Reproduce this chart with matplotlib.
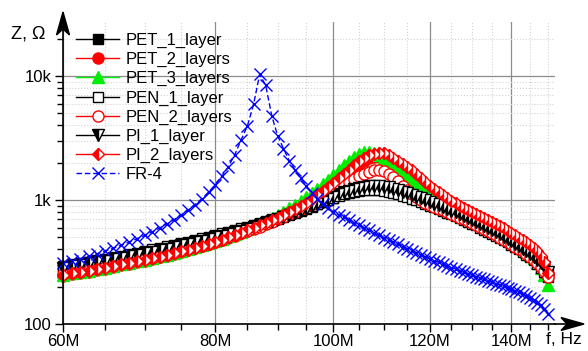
import numpy as np
import matplotlib
matplotlib.use('Agg')
import matplotlib.pyplot as plt
from matplotlib.patches import Polygon
from matplotlib.lines import Line2D
from matplotlib.ticker import FixedLocator, LogLocator, NullFormatter

plt.rcParams['font.family'] = ['Liberation Sans', 'DejaVu Sans']

# frequency sweep, MHz
f_mhz = [60, 61, 62, 63, 64, 65, 66, 67, 68, 69,
         70, 71, 72, 73, 74, 75, 76, 77, 78, 79,
         80, 81, 82, 83, 84, 85, 86, 87, 88, 89,
         90, 91, 92, 93, 94, 95, 96, 97, 98, 99,
         100, 101, 102, 103, 104, 105, 106, 107, 108, 109,
         110, 111, 112, 113, 114, 115, 116, 117, 118, 119,
         120, 121, 122, 123, 124, 125, 126, 127, 128, 129,
         130, 131, 132, 133, 134, 135, 136, 137, 138, 139,
         140, 141, 142, 143, 144, 145, 146, 147, 148, 149,
         150]

# impedance, Ohm
pet_1 = [290, 297, 305, 313, 321, 330, 339, 348, 358, 368,
         378, 389, 400, 411, 423, 435, 448, 461, 475, 490,
         505, 521, 537, 554, 572, 590, 610, 630, 652, 675,
         700, 727, 755, 785, 817, 850, 886, 923, 962, 1003,
         1045, 1088, 1128, 1163, 1195, 1222, 1245, 1262, 1268, 1262,
         1245, 1222, 1196, 1168, 1138, 1106, 1073, 1040, 1010, 980,
         950, 921, 893, 866, 840, 815, 790, 765, 740, 715,
         690, 665, 641, 617, 594, 571, 549, 527, 506, 485,
         463, 443, 423, 404, 385, 366, 346, 326, 305, 283,
         258]
pet_2 = [245, 251, 258, 265, 272, 280, 288, 297, 306, 315,
         325, 335, 345, 356, 368, 380, 393, 407, 422, 438,
         455, 474, 494, 516, 539, 564, 591, 620, 650, 682,
         716, 753, 793, 836, 884, 937, 1000, 1075, 1160, 1250,
         1345, 1455, 1570, 1690, 1820, 1950, 2070, 2170, 2230, 2240,
         2200, 2120, 2020, 1910, 1800, 1700, 1600, 1500, 1410, 1320,
         1240, 1170, 1110, 1055, 1005, 958, 915, 875, 838, 804,
         772, 742, 714, 688, 663, 639, 616, 592, 568, 544,
         520, 498, 477, 456, 435, 413, 390, 365, 337, 302,
         255]
pet_3 = [250, 256, 263, 270, 277, 285, 293, 302, 311, 320,
         330, 340, 351, 362, 374, 387, 401, 416, 432, 449,
         467, 487, 508, 531, 556, 583, 612, 643, 677, 715,
         757, 803, 854, 912, 977, 1050, 1135, 1230, 1340, 1460,
         1590, 1740, 1900, 2060, 2210, 2330, 2420, 2440, 2400, 2310,
         2190, 2060, 1920, 1790, 1660, 1550, 1450, 1360, 1280, 1210,
         1145, 1085, 1030, 980, 935, 893, 855, 818, 783, 750,
         718, 688, 659, 632, 606, 581, 557, 534, 511, 489,
         467, 446, 425, 404, 383, 361, 338, 313, 285, 250,
         205]
pen_1 = [295, 303, 311, 319, 328, 337, 346, 356, 366, 377,
         388, 399, 411, 423, 436, 449, 462, 476, 491, 507,
         523, 539, 556, 574, 592, 611, 631, 652, 674, 697,
         721, 746, 772, 800, 830, 862, 895, 930, 966, 1003,
         1040, 1076, 1108, 1136, 1160, 1180, 1194, 1202, 1204, 1198,
         1184, 1164, 1140, 1113, 1085, 1055, 1024, 993, 962, 931,
         900, 872, 845, 818, 792, 767, 742, 718, 694, 670,
         646, 623, 600, 578, 556, 535, 514, 494, 474, 455,
         436, 417, 399, 381, 363, 345, 326, 306, 285, 263,
         238]
pen_2 = [252, 258, 265, 272, 279, 287, 295, 304, 313, 322,
         332, 342, 352, 363, 375, 387, 400, 414, 429, 445,
         462, 480, 499, 519, 540, 562, 586, 611, 638, 667,
         698, 731, 766, 804, 845, 889, 937, 990, 1048, 1110,
         1175, 1245, 1320, 1400, 1480, 1560, 1630, 1690, 1730, 1745,
         1700, 1620, 1520, 1410, 1300, 1200, 1120, 1050, 995, 950,
         910, 880, 852, 825, 798, 772, 747, 722, 698, 674,
         650, 627, 604, 582, 560, 539, 518, 498, 478, 459,
         440, 421, 403, 385, 367, 349, 330, 310, 289, 266,
         240]
pi_1 = [285, 292, 300, 308, 316, 325, 334, 343, 353, 363,
        373, 384, 395, 406, 418, 430, 443, 456, 470, 485,
        500, 516, 532, 549, 567, 586, 606, 627, 649, 673,
        698, 725, 754, 785, 818, 853, 890, 930, 972, 1016,
        1062, 1108, 1152, 1192, 1228, 1258, 1281, 1296, 1302, 1298,
        1284, 1262, 1234, 1203, 1170, 1136, 1101, 1066, 1032, 998,
        965, 934, 904, 875, 847, 820, 794, 768, 742, 716,
        691, 666, 642, 618, 595, 572, 550, 528, 507, 486,
        465, 445, 425, 406, 387, 368, 349, 329, 308, 286,
        262]
pi_2 = [250, 256, 263, 270, 277, 285, 293, 302, 311, 320,
        330, 340, 350, 361, 373, 385, 398, 412, 427, 443,
        460, 480, 500, 522, 545, 570, 597, 626, 656, 688,
        722, 760, 800, 845, 895, 950, 1020, 1100, 1190, 1280,
        1380, 1500, 1620, 1750, 1900, 2050, 2180, 2290, 2370, 2400,
        2380, 2310, 2200, 2080, 1960, 1850, 1740, 1610, 1500, 1400,
        1300, 1220, 1160, 1100, 1040, 990, 940, 900, 860, 825,
        795, 765, 738, 712, 687, 663, 640, 615, 590, 565,
        540, 518, 497, 476, 455, 433, 410, 385, 355, 315,
        260]
fr_4 = [310, 322, 336, 352, 369, 388, 409, 432, 458, 487,
        518, 554, 594, 640, 694, 757, 830, 918, 1025, 1160,
        1330, 1550, 1860, 2320, 3050, 3950, 5900, 10300, 8400, 4800,
        3300, 2600, 2080, 1740, 1500, 1300, 1130, 1010, 920, 855,
        800, 760, 724, 690, 657, 627, 598, 570, 543, 518,
        494, 475, 457, 438, 421, 405, 390, 375, 361, 348,
        335, 324, 314, 303, 294, 285, 277, 269, 261, 254,
        247, 240, 235, 229, 223, 218, 212, 207, 201, 196,
        190, 185, 180, 174, 168, 163, 156, 149, 142, 131,
        120]

x_ticks = [60e6, 80e6, 100e6, 120e6, 140e6]
x_labels = ['60M', '80M', '100M', '120M', '140M']
y_ticks = [100, 1000, 10000]
y_labels = ['100', '1k', '10k']

W, H = 588, 351
fig = plt.figure(figsize=(W / 100, H / 100), dpi=100)
ax = fig.add_axes([63 / W, 27 / H, 492 / W, 302 / H])

f = np.array(f_mhz) * 1e6
series = [
    ('PET_1_layer', pet_1, dict(color='black', marker='s', mfc='black', mec='black', ms=7)),
    ('PET_2_layers', pet_2, dict(color='red', marker='o', mfc='red', mec='red', ms=8)),
    ('PET_3_layers', pet_3, dict(color='#00ee00', marker='^', mfc='#00ee00', mec='#00ee00', ms=8.5)),
    ('PEN_1_layer', pen_1, dict(color='black', marker='s', mfc='white', mec='black', ms=7)),
    ('PEN_2_layers', pen_2, dict(color='red', marker='o', mfc='white', mec='red', ms=8)),
    ('PI_1_layer', pi_1, dict(color='black', marker='v', mfc='black', mec='black', ms=8.5,
                              fillstyle='left', markerfacecoloralt='white')),
    ('PI_2_layers', pi_2, dict(color='red', marker='D', mfc='red', mec='red', ms=6,
                               fillstyle='left', markerfacecoloralt='white')),
    ('FR-4', fr_4, dict(color='blue', marker='x', mec='blue', ms=9, ls=(0, (4, 2)))),
]
for name, z, st in series:
    ax.plot(f, z, lw=1, mew=1, label=name, clip_on=False, **st)

ax.set_xscale('log')
ax.set_yscale('log')
ax.set_xlim(60e6, 152e6)
ax.set_ylim(100, 10 ** (2 + 302 / 124))

ax.xaxis.set_major_locator(FixedLocator(x_ticks))
ax.xaxis.set_minor_locator(FixedLocator([m * 1e6 for m in range(65, 155, 5) if m % 20 != 0]))
ax.set_xticklabels(x_labels)
ax.xaxis.set_minor_formatter(NullFormatter())
ax.yaxis.set_major_locator(FixedLocator(y_ticks))
ax.yaxis.set_minor_locator(LogLocator(base=10, subs=range(2, 10)))
ax.set_yticklabels(y_labels)
ax.yaxis.set_minor_formatter(NullFormatter())

ax.grid(True, which='major', color='#8c8c8c', lw=0.9, ls='-')
ax.grid(True, which='minor', color='#d4d4d4', lw=0.8, ls=':')
ax.set_axisbelow(True)
ax.tick_params(which='major', direction='out', length=6, width=1, labelsize=12, pad=1.5)
ax.tick_params(which='minor', direction='out', length=4, width=1)
ax.tick_params(axis='y', which='major', pad=2.5)

for s in ['top', 'right']:
    ax.spines[s].set_visible(False)
for s in ['left', 'bottom']:
    ax.spines[s].set_linewidth(1.2)

# axis arrows
def px(x, y):
    return (x / W, 1 - y / H)

fig.add_artist(Line2D([63 / W, 63 / W], [px(0, 13)[1], px(0, 22)[1]], color='black', lw=1.2))
fig.add_artist(Line2D([555 / W, 575 / W], [px(0, 324)[1]] * 2, color='black', lw=1.2))
fig.add_artist(Polygon([px(63, 12), px(56.5, 35), px(63, 29), px(69.5, 35)],
                       closed=True, color='black', transform=fig.transFigure))
fig.add_artist(Polygon([px(584, 324), px(561, 317.5), px(567, 324), px(561, 330.5)],
                       closed=True, color='black', transform=fig.transFigure))

fig.text(28 / W, 1 - 34 / H, 'Z, \u03a9', fontsize=13, ha='center', va='center')
fig.text(564 / W, 1 - 340 / H, 'f, Hz', fontsize=12.5, ha='center', va='center')

ax.legend(loc='upper left', bbox_to_anchor=(76 / W, 1 - 33 / H), bbox_transform=fig.transFigure,
          frameon=False, fontsize=12, handlelength=2.6, handletextpad=0.4, labelspacing=0.24,
          borderpad=0, borderaxespad=0, numpoints=1)

plt.savefig('out.png', dpi=100)
